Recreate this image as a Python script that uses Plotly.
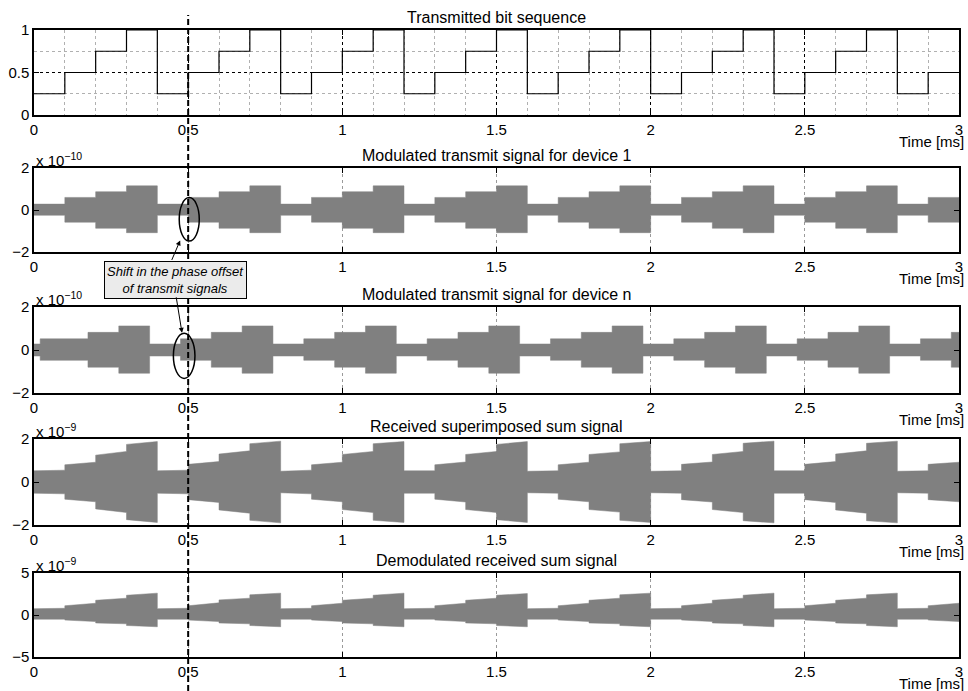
import plotly.graph_objects as go

# ---------------- data ----------------
symbol_ms = 0.1                      # duration of one transmitted symbol
bit_levels = [0.25, 0.5, 0.75, 1.0, 0.25, 0.5, 0.75, 1.0, 0.25, 0.5,
              0.75, 1.0, 0.25, 0.5, 0.75, 1.0, 0.25, 0.5, 0.75, 1.0,
              0.25, 0.5, 0.75, 1.0, 0.25, 0.5, 0.75, 1.0, 0.25, 0.5]

# device 1 : envelope per symbol (units 1e-10)
dev1_upper = [0.28, 0.60, 0.87, 1.15, 0.28, 0.60, 0.87, 1.15, 0.28, 0.60,
              0.87, 1.15, 0.28, 0.60, 0.87, 1.15, 0.28, 0.60, 0.87, 1.15,
              0.28, 0.60, 0.87, 1.15, 0.28, 0.60, 0.87, 1.15, 0.28, 0.60]
dev1_lower = [0.25, 0.58, 0.87, 1.08, 0.25, 0.58, 0.87, 1.08, 0.25, 0.58,
              0.87, 1.08, 0.25, 0.58, 0.87, 1.08, 0.25, 0.58, 0.87, 1.08,
              0.25, 0.58, 0.87, 1.08, 0.25, 0.58, 0.87, 1.08, 0.25, 0.58]

# device n : shifted segment edges (ms) and envelope (units 1e-10)
devn_edges = [0.0, 0.02, 0.175, 0.275, 0.375, 0.475, 0.575, 0.675, 0.775, 0.875,
              0.975, 1.075, 1.175, 1.275, 1.375, 1.475, 1.575, 1.675, 1.775, 1.875,
              1.975, 2.075, 2.175, 2.275, 2.375, 2.475, 2.575, 2.675, 2.775, 2.875,
              2.975, 3.0]
devn_upper = [0.28, 0.52, 0.82, 1.12, 0.28, 0.52, 0.82, 1.12, 0.28, 0.52,
              0.82, 1.12, 0.28, 0.52, 0.82, 1.12, 0.28, 0.52, 0.82, 1.12,
              0.28, 0.52, 0.82, 1.12, 0.28, 0.52, 0.82, 1.12, 0.28, 0.52, 0.82]
devn_lower = [0.28, 0.48, 0.80, 1.08, 0.28, 0.48, 0.80, 1.08, 0.28, 0.48,
              0.80, 1.08, 0.28, 0.48, 0.80, 1.08, 0.28, 0.48, 0.80, 1.08,
              0.28, 0.48, 0.80, 1.08, 0.28, 0.48, 0.80, 1.08, 0.28, 0.48, 0.80]

# received sum signal : envelope at start / end of each symbol (units 1e-9)
sum_amp_start = [0.52, 0.80, 1.25, 1.75, 0.52, 0.82, 1.30, 1.78, 0.50, 0.80,
                 1.28, 1.78, 0.52, 0.80, 1.28, 1.75, 0.50, 0.80, 1.28, 1.78,
                 0.50, 0.82, 1.28, 1.80, 0.52, 0.82, 1.30, 1.80, 0.50, 0.82]
sum_amp_end = [0.55, 0.92, 1.42, 1.88, 0.55, 0.95, 1.45, 1.90, 0.55, 0.92,
               1.42, 1.88, 0.52, 0.93, 1.42, 1.88, 0.52, 0.92, 1.40, 1.88,
               0.52, 0.93, 1.42, 1.90, 0.52, 0.95, 1.45, 1.90, 0.52, 0.92]

# demodulated sum signal : upper / lower envelope at start / end of symbol (units 1e-9)
dem_up_start = [0.75, 1.10, 1.75, 2.35, 0.75, 1.10, 1.80, 2.40, 0.75, 1.10,
                1.75, 2.35, 0.75, 1.10, 1.75, 2.35, 0.75, 1.10, 1.75, 2.40,
                0.75, 1.10, 1.75, 2.35, 0.75, 1.10, 1.75, 2.40, 0.75, 1.10]
dem_up_end = [0.80, 1.40, 2.00, 2.60, 0.80, 1.45, 2.00, 2.60, 0.80, 1.40,
              2.00, 2.60, 0.80, 1.40, 2.00, 2.55, 0.80, 1.40, 2.00, 2.60,
              0.80, 1.40, 2.00, 2.60, 0.80, 1.40, 2.00, 2.60, 0.80, 1.40]
dem_lo_start = [0.50, 0.60, 0.95, 1.25, 0.50, 0.60, 0.95, 1.25, 0.50, 0.60,
                0.95, 1.25, 0.50, 0.60, 0.95, 1.25, 0.50, 0.60, 0.95, 1.25,
                0.50, 0.60, 0.95, 1.25, 0.50, 0.60, 0.95, 1.25, 0.50, 0.60]
dem_lo_end = [0.50, 0.78, 1.05, 1.40, 0.50, 0.78, 1.05, 1.40, 0.50, 0.78,
              1.05, 1.40, 0.50, 0.78, 1.05, 1.40, 0.50, 0.78, 1.05, 1.40,
              0.50, 0.78, 1.05, 1.40, 0.50, 0.78, 1.05, 1.40, 0.50, 0.78]

titles = ["Transmitted bit sequence",
          "Modulated transmit signal for device 1",
          "Modulated transmit signal for device n",
          "Received superimposed sum signal",
          "Demodulated received sum signal"]
exponents = [None, "x 10<sup>\u221210</sup>", "x 10<sup>\u221210</sup>",
             "x 10<sup>\u22129</sup>", "x 10<sup>\u22129</sup>"]
y_ranges = [[0, 1], [-2, 2], [-2, 2], [-2, 2], [-5, 5]]
y_dticks = [0.5, 2, 2, 2, 5]
time_tick_vals = [0, 0.5, 1, 1.5, 2, 2.5, 3]
time_tick_text = ["0", "0.5", "1", "1.5", "2", "2.5", "3"]
callout_text = "<i>Shift in the phase offset<br>of transmit signals</i>"
marker_time_ms = 0.5

# ---------------- helpers ----------------
n_sym = len(bit_levels)
sym_edges = [round(i * symbol_ms, 4) for i in range(n_sym + 1)]


def envelope(edges, up_s, up_e, lo_s, lo_e):
    xu, yu, xl, yl = [], [], [], []
    for i in range(len(edges) - 1):
        xu += [edges[i], edges[i + 1]]
        yu += [up_s[i], up_e[i]]
        xl += [edges[i], edges[i + 1]]
        yl += [-lo_s[i], -lo_e[i]]
    return xu + xl[::-1], yu + yl[::-1]


FONT = "Liberation Sans, Arial, Helvetica, sans-serif"
GRAY = "#808080"

fig = go.Figure()

# subplot 1 : bit sequence
fig.add_trace(go.Scatter(x=sym_edges, y=bit_levels + [bit_levels[-1]], mode="lines",
                         line=dict(color="black", width=1.2, shape="hv"),
                         xaxis="x", yaxis="y", hoverinfo="skip"))

# subplot 2 / 3 : modulated signals
px, py = envelope(sym_edges, dev1_upper, dev1_upper, dev1_lower, dev1_lower)
fig.add_trace(go.Scatter(x=px, y=py, fill="toself", fillcolor=GRAY, mode="lines",
                         line=dict(color=GRAY, width=0.5), xaxis="x2", yaxis="y2",
                         hoverinfo="skip"))
px, py = envelope(devn_edges, devn_upper, devn_upper, devn_lower, devn_lower)
fig.add_trace(go.Scatter(x=px, y=py, fill="toself", fillcolor=GRAY, mode="lines",
                         line=dict(color=GRAY, width=0.5), xaxis="x3", yaxis="y3",
                         hoverinfo="skip"))
# subplot 4 : sum
px, py = envelope(sym_edges, sum_amp_start, sum_amp_end, sum_amp_start, sum_amp_end)
fig.add_trace(go.Scatter(x=px, y=py, fill="toself", fillcolor=GRAY, mode="lines",
                         line=dict(color=GRAY, width=0.5), xaxis="x4", yaxis="y4",
                         hoverinfo="skip"))
# subplot 5 : demodulated
px, py = envelope(sym_edges, dem_up_start, dem_up_end, dem_lo_start, dem_lo_end)
fig.add_trace(go.Scatter(x=px, y=py, fill="toself", fillcolor=GRAY, mode="lines",
                         line=dict(color=GRAY, width=0.5), xaxis="x5", yaxis="y5",
                         hoverinfo="skip"))

# ---------------- layout ----------------
W, H = 968, 691
ML, MR, MT, MB = 34, 9, 30, 34
plot_h = H - MT - MB
# pixel top / bottom of each panel
panel_px = [(30, 115), (168, 252), (307, 393), (439, 525), (573, 657)]


def py2paper(y):
    return (H - MB - y) / plot_h


def px2paper(x):
    return (x - ML) / (W - ML - MR)


layout = dict(width=W, height=H, margin=dict(l=ML, r=MR, t=MT, b=MB),
              paper_bgcolor="white", plot_bgcolor="white", showlegend=False,
              font=dict(family=FONT, size=15, color="black"))

annotations = []
for i in range(5):
    k = "" if i == 0 else str(i + 1)
    top, bot = panel_px[i]
    dom = [py2paper(bot), py2paper(top)]
    gcol = "black" if i == 0 else "#9a9a9a"
    xa = dict(domain=[0, 1], range=[0, 3], anchor="y" + k, tickmode="array",
              tickvals=time_tick_vals, ticktext=time_tick_text, automargin=False,
              ticks="inside", ticklen=5, tickcolor="black", tickwidth=1,
              showline=True, linecolor="black", linewidth=1.5, mirror="ticks",
              showgrid=True, gridcolor=gcol, griddash="dot", gridwidth=1,
              zeroline=False, tickfont=dict(size=15, family=FONT, color="black"))
    ya = dict(domain=dom, range=y_ranges[i], anchor="x" + k, tick0=0,
              dtick=y_dticks[i], ticks="inside", ticklen=5, tickcolor="black",
              automargin=False,
              showline=True, linecolor="black", linewidth=1.5, mirror="ticks",
              showgrid=(i == 0), gridcolor="black", griddash="dot", gridwidth=1,
              zeroline=False, tickfont=dict(size=15, family=FONT, color="black"))
    if i == 0:
        xa["minor"] = dict(dtick=0.1, tick0=0, showgrid=True, gridcolor="#b0b0b0",
                           griddash="dot", gridwidth=1, ticks="")
        ya["minor"] = dict(dtick=0.25, tick0=0, showgrid=True, gridcolor="#b0b0b0",
                           griddash="dot", gridwidth=1, ticks="")
    layout["xaxis" + k] = xa
    layout["yaxis" + k] = ya

    annotations.append(dict(text=titles[i], xref="paper", yref="paper", x=0.5,
                            y=py2paper(top), yanchor="bottom", xanchor="center",
                            showarrow=False, yshift=2,
                            font=dict(size=16, family=FONT, color="black")))
    annotations.append(dict(text="Time [ms]", xref="paper", yref="paper",
                            x=px2paper(966), xanchor="right",
                            y=py2paper(bot + 26), yanchor="middle", showarrow=False,
                            font=dict(size=15, family=FONT, color="black")))
    if exponents[i]:
        annotations.append(dict(text=exponents[i], xref="paper", yref="paper",
                                x=0, xanchor="left", y=py2paper(top),
                                yanchor="bottom", showarrow=False, yshift=-3,
                                font=dict(size=15, family=FONT, color="black")))

# callout box and arrows
annotations.append(dict(text=callout_text, xref="paper", yref="paper",
                        x=px2paper(175.5), y=py2paper(279.5), xanchor="center",
                        yanchor="middle", showarrow=False, bgcolor="#ebebeb",
                        bordercolor="black", borderwidth=1, borderpad=2,
                        font=dict(size=13, family=FONT, color="black")))
annotations.append(dict(text="", xref="x2", yref="y2", x=0.474, y=-1.45,
                        ax=-9, ay=21, showarrow=True, arrowhead=2, arrowsize=1,
                        arrowwidth=1, arrowcolor="black"))
annotations.append(dict(text="", xref="x3", yref="y3", x=0.48, y=0.80,
                        ax=-6, ay=-37, showarrow=True, arrowhead=2, arrowsize=1,
                        arrowwidth=1, arrowcolor="black"))
layout["annotations"] = annotations

layout["shapes"] = [
    dict(type="circle", xref="x2", yref="y2", x0=0.471, x1=0.536, y0=-1.48, y1=0.59,
         line=dict(color="black", width=1.5), layer="above"),
    dict(type="circle", xref="x3", yref="y3", x0=0.452, x1=0.522, y0=-1.32, y1=0.78,
         line=dict(color="black", width=1.5), layer="above"),
    dict(type="line", xref="x", yref="paper", x0=marker_time_ms, x1=marker_time_ms,
         y0=py2paper(H), y1=py2paper(15), line=dict(color="black", width=2, dash="6px,3px"),
         layer="above"),
]

fig.update_layout(**layout)
fig.write_html("out.html", config={"displayModeBar": False},
               post_script="document.body.style.margin='0px';"
                           "document.body.style.overflow='hidden';")
